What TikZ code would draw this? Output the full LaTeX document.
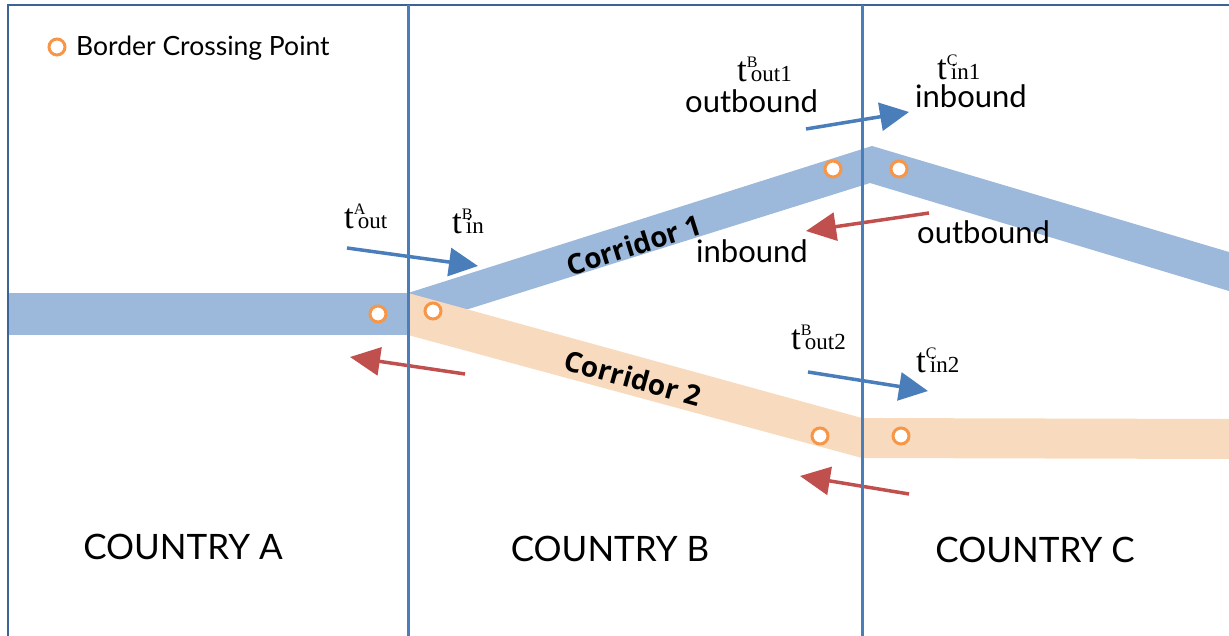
\documentclass[tikz,border=0pt]{standalone}
\usepackage{fontspec}
\setmainfont{Lato}
\newfontfamily\tnr{Liberation Serif}
\newfontfamily\osans{Open Sans}
\usetikzlibrary{arrows.meta}
\definecolor{corrblue}{HTML}{9CB8DA}
\definecolor{corrorange}{HTML}{F8DBBE}
\definecolor{ringorange}{HTML}{F79646}
\definecolor{divblue}{HTML}{4A7EBB}
\definecolor{frameblue}{HTML}{3B6396}
\definecolor{arrblue}{HTML}{4A7EBB}
\definecolor{arrred}{HTML}{C0504D}
\newcommand\tlab[2]{{\tnr\fontsize{35}{35}\selectfont t}\makebox[0pt][l]{\raisebox{14pt}{\tnr\fontsize{16}{16}\selectfont #1}}\hspace{4pt}{\tnr\fontsize{23}{23}\selectfont #2}}
\begin{document}
\begin{tikzpicture}[x=1pt,y=-1pt,
  bcp/.style={circle,draw=ringorange,line width=3pt,fill=white,minimum size=16pt,inner sep=0pt},
  lab/.style={inner sep=0pt,anchor=base west,font=\fontsize{31}{31}\selectfont},
  country/.style={inner sep=0pt,anchor=base,font=\fontsize{35}{35}\selectfont},
  corrlab/.style={inner sep=0pt,font=\osans\bfseries\fontsize{28}{28}\selectfont},
  tl/.style={inner sep=0pt,anchor=base west},
  bluearr/.style={draw=arrblue,line width=3.5pt,-{Triangle[length=29pt,width=28pt]}},
  redarr/.style={draw=arrred,line width=3.5pt,-{Triangle[length=30pt,width=28pt]}},
  divider/.style={draw=divblue,line width=3pt},
  frame/.style={draw=frameblue,line width=2.2pt}]
\useasboundingbox (0,0) rectangle (1229,636);
% corridors
\fill[corrblue] (8,293) rectangle (408,335);
\fill[corrblue] (408,293) -- (872,146) -- (1229,252) -- (1229,291) -- (870,183) -- (408,328) -- cycle;
\fill[corrorange] (408,293) -- (862,418) -- (1229,419) -- (1229,459) -- (862,458) -- (408,335) -- cycle;
% corridor labels
\node[corrlab,rotate=17.5] (c1) at (634,245) {Corridor 1};
\node[corrlab,rotate=-15.5] (c2) at (633,378) {Corridor 2};
% border crossing points
\node[bcp] (p1) at (378,314) {};
\node[bcp] (p2) at (433,311) {};
\node[bcp] (p3) at (833,169) {};
\node[bcp] (p4) at (899,169) {};
\node[bcp] (p5) at (820,436) {};
\node[bcp] (p6) at (901,436) {};
% legend
\node[bcp] (leg) at (57,47) {};
\node[tl,font=\fontsize{26.5}{26.5}\selectfont] (legt) at (76,56) {Border Crossing Point};
% arrows
\coordinate (a1s) at (347,248); \coordinate (a1e) at (478,266);
\coordinate (r1s) at (465,374); \coordinate (r1e) at (350,357);
\coordinate (a2s) at (806,129); \coordinate (a2e) at (909,112);
\coordinate (r2s) at (929,213); \coordinate (r2e) at (806,231);
\coordinate (a3s) at (808,372); \coordinate (a3e) at (928,391);
\coordinate (r3s) at (909,494); \coordinate (r3e) at (800,476);
\draw[bluearr] (a1s) -- (a1e);
\draw[redarr] (r1s) -- (r1e);
\draw[bluearr] (a2s) -- (a2e);
\draw[redarr] (r2s) -- (r2e);
\draw[bluearr] (a3s) -- (a3e);
\draw[redarr] (r3s) -- (r3e);
% frame and dividers
\draw[frame] (8,636) -- (8,5) -- (1229,5);
\draw[divider] (408,5) -- (408,636);
\draw[divider] (862,5) -- (862,636);
% time labels
\node[tl] (tAout) at (344,229) {\tlab{A}{out}};
\node[tl] (tBin) at (452,234) {\tlab{B}{in}};
\node[tl] (tBout1) at (737,82) {\tlab{B}{out1}};
\node[tl] (tCin1) at (937,80) {\tlab{C}{in1}};
\node[tl] (tBout2) at (791,349) {\tlab{B}{out2}};
\node[tl] (tCin2) at (916,372) {\tlab{C}{in2}};
% direction labels
\node[lab] (ob1) at (685,113) {outbound};
\node[lab] (ib1) at (915,108) {inbound};
\node[lab] (ob2) at (917,244) {outbound};
\node[lab] (ib2) at (696,263) {inbound};
% countries
\node[country] (cA) at (183,559) {COUNTRY A};
\node[country] (cB) at (610,561) {COUNTRY B};
\node[country] (cC) at (1035,562) {COUNTRY C};
\end{tikzpicture}
\end{document}
